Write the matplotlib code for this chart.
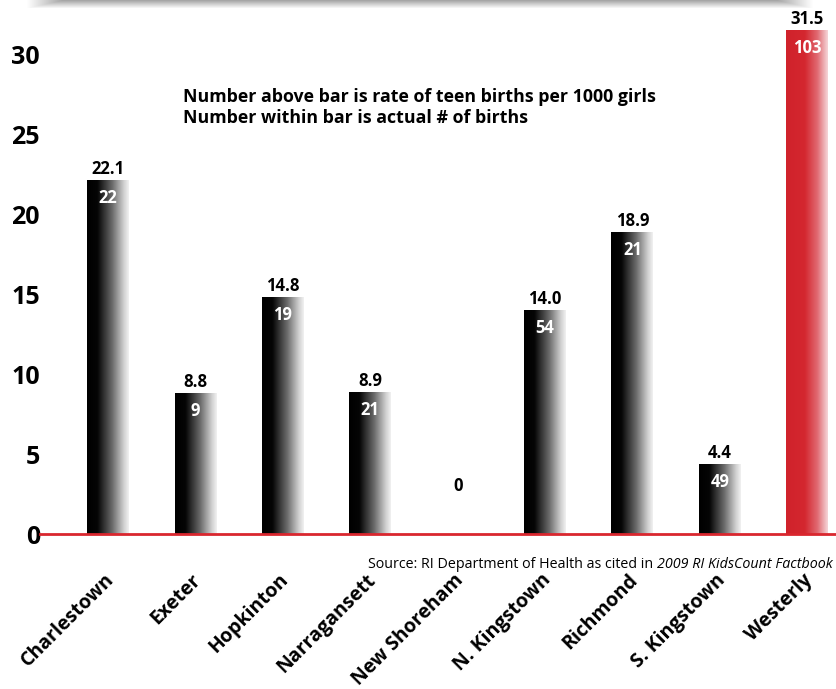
import numpy as np
import matplotlib
matplotlib.use('agg')
import matplotlib.pyplot as plt
from matplotlib.colors import LinearSegmentedColormap

plt.rcParams['font.family'] = ['Open Sans', 'DejaVu Sans']

towns = ['Charlestown', 'Exeter', 'Hopkinton', 'Narragansett', 'New Shoreham',
         'N. Kingstown', 'Richmond', 'S. Kingstown', 'Westerly']
rates = [22.1, 8.8, 14.8, 8.9, 0, 14.0, 18.9, 4.4, 31.5]
rate_labels = ['22.1', '8.8', '14.8', '8.9', '0', '14.0', '18.9', '4.4', '31.5']
births = ['22', '9', '19', '21', '', '54', '21', '49', '103']
highlight = 'Westerly'

black_fade = LinearSegmentedColormap.from_list(
    'black_fade', [(0, '#000000'), (0.25, '#050505'), (0.6, '#6a6a6a'),
                   (0.88, '#d0d0d0'), (1, '#f2f2f2')])
red_fade = LinearSegmentedColormap.from_list(
    'red_fade', [(0, '#d0222b'), (0.45, '#d4272f'), (0.75, '#e06a72'),
                 (1, '#f6d6d9')])

fig = plt.figure(figsize=(8.36, 6.89), dpi=100)
ax = fig.add_axes([40 / 836, 155 / 689, 796 / 836, 528 / 689])

# soft shadow under the title box along the top edge
shadow = fig.add_axes([25 / 836, 1 - 9 / 689, 790 / 836, 9 / 689])
shade = np.linspace(0.65, 1.0, 9).reshape(-1, 1) * np.ones((1, 200))
edge = np.linspace(1.0, 0.65, 10)
shade[:, :10] = np.maximum(shade[:, :10], edge)
shade[:, -10:] = np.maximum(shade[:, -10:], edge[::-1])
shadow.imshow(shade, cmap='gray', vmin=0, vmax=1, aspect='auto',
              interpolation='bilinear')
shadow.axis('off')

x = np.arange(len(towns))
width = 0.48
bars = ax.bar(x, rates, width=width, color='none', edgecolor='none')
grad = np.linspace(0, 1, 256).reshape(1, -1)
for rect, town in zip(bars, towns):
    h = rect.get_height()
    if h <= 0:
        continue
    x0 = rect.get_x()
    cmap = red_fade if town == highlight else black_fade
    im = ax.imshow(grad, cmap=cmap, aspect='auto', interpolation='bicubic',
                   extent=[x0, x0 + rect.get_width(), 0, h], zorder=2)
    im.set_clip_path(rect)

# value labels: rate above, births inside
for xi, r, rl, b in zip(x, rates, rate_labels, births):
    if r > 0:
        ax.annotate(rl, (xi, r), xytext=(0, 1.5), textcoords='offset points',
                    ha='center', va='bottom', fontsize=12, fontweight='bold')
        ax.annotate(b, (xi, r), xytext=(0, -6.5), textcoords='offset points',
                    ha='center', va='top', fontsize=12, fontweight='bold',
                    color='white', zorder=3)
    else:
        ax.text(xi, 3.0, rl, ha='center', va='center', fontsize=12,
                fontweight='bold')

ax.set_xlim(-0.78, 8.33)
ax.set_ylim(0, 33)
ax.set_yticks([0, 5, 10, 15, 20, 25, 30])
ax.set_yticklabels(['0', '5', '10', '15', '20', '25', '30'],
                   fontsize=18, fontweight='bold')
ax.tick_params(axis='y', length=0, pad=0)
ax.set_xticks([])
for side in ['top', 'right', 'left']:
    ax.spines[side].set_visible(False)
ax.spines['bottom'].set_color('#d9262e')
ax.spines['bottom'].set_linewidth(2)
ax.spines['bottom'].set_zorder(4)

# rotated town names under the axis
for xi, town in zip(x, towns):
    ax.annotate(town, (xi, 0), xytext=(2, -31), textcoords='offset points',
                rotation=45, rotation_mode='anchor', ha='right', va='center',
                fontsize=14, fontweight='bold', annotation_clip=False)

ax.text(0.86, 26.65, 'Number above bar is rate of teen births per 1000 girls\n'
        'Number within bar is actual # of births',
        fontsize=12.8, fontweight='bold', ha='left', va='center',
        linespacing=1.2)

src_it = fig.text(833 / 836, 1 - 565 / 689, '2009 RI KidsCount Factbook',
                  fontsize=10.3, style='italic', ha='right', va='center')
ax.annotate('Source: RI Department of Health as cited in ', xy=(0, 0.5),
            xycoords=src_it, ha='right', va='center', fontsize=10.3,
            annotation_clip=False)

fig.savefig('out.png', dpi=100)
